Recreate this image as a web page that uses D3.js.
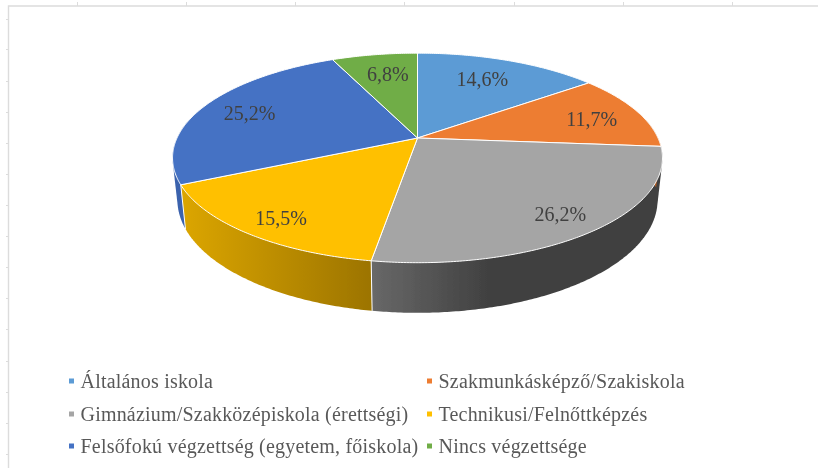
<!DOCTYPE html>
<html><head><meta charset="utf-8">
<style>html,body{margin:0;padding:0;background:#fff}svg{display:block}</style>
<script src="https://cdn.jsdelivr.net/npm/d3@7"></script></head>
<body><svg id="c" width="818" height="468"></svg>
<script>
const categories=["Általános iskola","Szakmunkásképző/Szakiskola","Gimnázium/Szakközépiskola (érettségi)","Technikusi/Felnőttképzés","Felsőfokú végzettség (egyetem, főiskola)","Nincs végzettsége"];
const values=[14.6,11.7,26.2,15.5,25.2,6.8];
const labels=["14,6%","11,7%","26,2%","15,5%","25,2%","6,8%"];
const colors=["#5b9bd5","#ed7d31","#a5a5a5","#ffc000","#4472c4","#70ad47"];
const wallLeft=["#4a80b8","#b05a20","#686868","#dcA600","#3a62ad","#5a8c38"];
const wallRight=["#4a80b8","#b05a20","#404040","#9c7400","#3a62ad","#5a8c38"];
const topTicks=[77,186,295,404,514,623,732];
const leftTicks=[19,49,81,112,143,174,205,236,267,298,329,361,392,423,454];

const svg=d3.select("#c");
const cx=417.5,cy=138,R=240.5,A=101,k=0.19,D=40.6,shrink=0.98;
function topPt(t){const u=Math.sin(t),v=Math.cos(t),w=1+k*v;return [cx+R*u/w,cy-A*v/w];}
function botPt(t){const u=Math.sin(t),v=Math.cos(t),w=1+k*v;return [cx+shrink*R*u/w,cy+(D-A*v)/w];}
const defs=svg.append("defs");
const f=defs.append("filter").attr("id","soft").attr("filterUnits","userSpaceOnUse").attr("x",0).attr("y",0).attr("width",818).attr("height",468);
f.append("feGaussianBlur").attr("stdDeviation",0.5);

// frame
const frame=svg.append("g").attr("stroke","#dcdcdc").attr("fill","none");
frame.append("path").attr("d","M8.5,468V6H818").attr("stroke-width",1.4);
frame.selectAll(".t").data(topTicks).join("line").attr("x1",d=>d+.5).attr("x2",d=>d+.5).attr("y1",2).attr("y2",6);
frame.selectAll(".l").data(leftTicks).join("line").attr("y1",d=>d+.5).attr("y2",d=>d+.5).attr("x1",6).attr("x2",8);

const arcs=d3.pie().sort(null).value(d=>d).startAngle(0).endAngle(2*Math.PI)(values);
const line=d3.line();
function arcPts(fn,a,b){const n=Math.max(2,Math.ceil((b-a)/0.01));return d3.range(n+1).map(i=>fn(a+(b-a)*i/n));}

const chart=svg.append("g").attr("filter","url(#soft)");
// walls: front half of the disc only
[4,3,2,1].forEach(i=>{
  const a=arcs[i];
  const s=Math.max(a.startAngle,Math.PI*0.5-0.25), e=Math.min(a.endAngle,Math.PI*1.5+0.25);
  if(e<=s)return;
  const T=arcPts(topPt,s,e),B=arcPts(botPt,s,e);
  const id="w"+i;
  const xs=T.concat(B).map(p=>p[0]);
  const g=defs.append("linearGradient").attr("id",id).attr("gradientUnits","userSpaceOnUse")
    .attr("x1",i===2?372:d3.min(xs)).attr("x2",i===2?490:d3.max(xs)).attr("y1",0).attr("y2",0);
  g.append("stop").attr("offset",0).attr("stop-color",wallLeft[i]);
  g.append("stop").attr("offset",1).attr("stop-color",wallRight[i]);
  const poly=T.concat(B.slice().reverse());
  chart.append("path").attr("d",line(d3.polygonHull(poly)||poly)+"Z").attr("fill","url(#"+id+")");
});
// seams
arcs.forEach(a=>{
  const t=a.startAngle;
  if(Math.cos(t)<-0.2){const p=topPt(t),q=botPt(t);
    chart.append("line").attr("x1",p[0]).attr("y1",p[1]).attr("x2",q[0]).attr("y2",q[1]).attr("stroke","#fff").attr("stroke-width",1);}
});
// top slices
arcs.forEach((a,i)=>{
  const P=[[cx,cy]].concat(arcPts(topPt,a.startAngle,a.endAngle));
  chart.append("path").attr("d",line(P)+"Z").attr("fill",colors[i]).attr("stroke","#fff").attr("stroke-width",1).attr("stroke-linejoin","round");
});
// labels
const labelR=[0.68,0.74,0.66,0.60,0.67,0.78];
const labelDx=[0,10,34,-41,-23,5];
const labelDy=[-3,2,19,28,-2,4];
const tg=svg.append("g").attr("filter","url(#soft)");
arcs.forEach((a,i)=>{
  const m=(a.startAngle+a.endAngle)/2;
  const u=Math.sin(m)*labelR[i],v=Math.cos(m)*labelR[i],w=1+k*v;
  tg.append("text").attr("x",cx+R*u/w+labelDx[i]).attr("y",cy-A*v/w+6+labelDy[i])
    .attr("text-anchor","middle").attr("font-family","'Liberation Serif',serif").attr("font-size",20).attr("fill","#404040").text(labels[i]);
});
// legend
const legX=[68,426],legY=[381,414,446];
categories.forEach((c,i)=>{
  const col=i%2,row=Math.floor(i/2);
  tg.append("rect").attr("x",legX[col]+1).attr("y",legY[row]-2.5).attr("width",5).attr("height",5).attr("fill",colors[i]);
  tg.append("text").attr("x",legX[col]+12.5).attr("y",legY[row]+7).attr("font-family","'Liberation Serif',serif").attr("font-size",20).attr("letter-spacing",0.2).attr("fill","#595959").text(c);
});
</script></body></html>
